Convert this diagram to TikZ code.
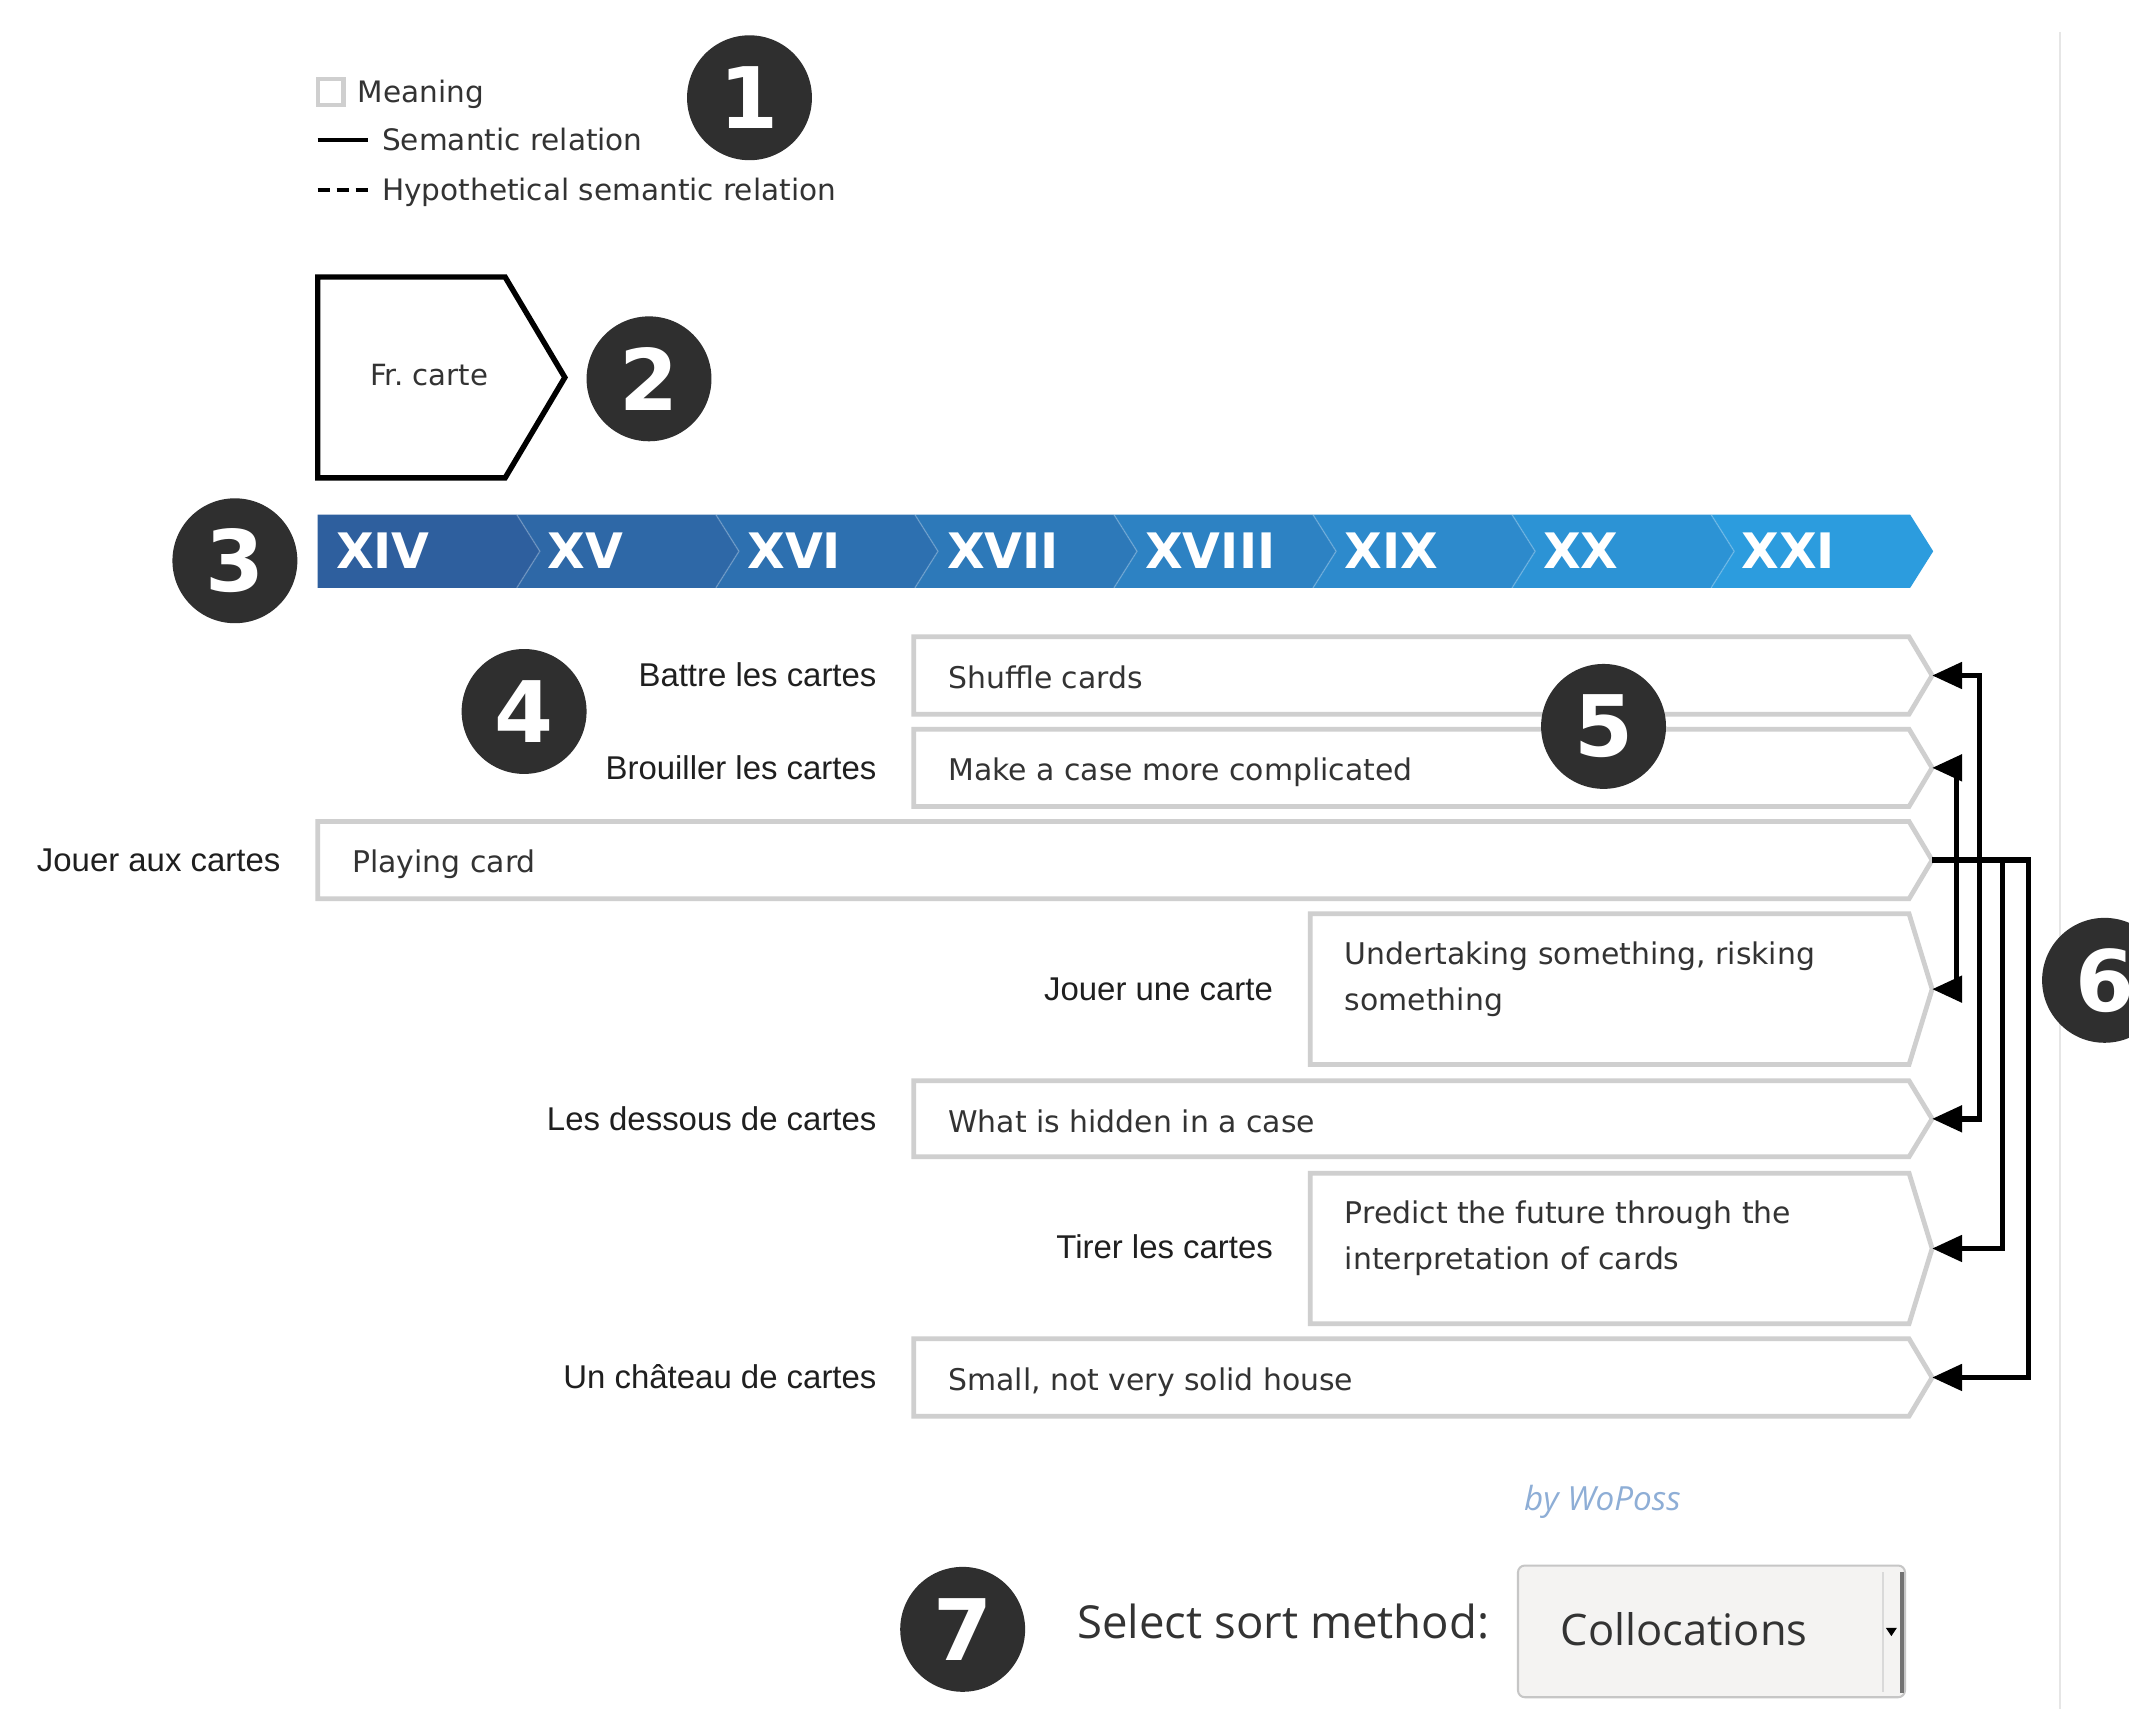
\documentclass[tikz,border=0pt]{standalone}
\usepackage{fontspec}
\setmainfont{DejaVu Sans}
\newfontfamily\labfont{Liberation Sans}
\newfontfamily\osfont{Open Sans}
\usetikzlibrary{arrows.meta}
\definecolor{numbg}{HTML}{2F2F2F}
\definecolor{boxgray}{HTML}{CFCFCF}
\definecolor{txt}{HTML}{333333}
\definecolor{tlL}{HTML}{2E5F9E}
\definecolor{tlR}{HTML}{2C9CDE}
\definecolor{woposs}{HTML}{8EAED6}
\definecolor{ddfill}{HTML}{F4F3F2}
\definecolor{ddborder}{HTML}{C6C6C6}
\definecolor{pageline}{HTML}{E6E6E6}
\newcommand\meaningpath[4]{%
  \draw[meaningbox] (#2,#3) -- (1406,#3) -- (1423,{(#3+#4)/2}) -- (1406,#4) -- (#2,#4) -- cycle;
  \coordinate (#1) at (1423,{(#3+#4)/2});
}
\begin{document}
\begin{tikzpicture}[x=0.4pt,y=-0.4pt,
 numc/.style={circle,fill=numbg,text=white,minimum size=36.8pt,inner sep=0pt,font=\fontsize{25}{25}\selectfont\bfseries},
 meaningbox/.style={draw=boxgray,line width=1.4pt,fill=white,line join=miter},
 mtext/.style={anchor=mid west,inner sep=0pt,text=txt,font=\fontsize{8.8}{13.6}\selectfont},
 mlab/.style={anchor=mid east,inner sep=0pt,text=black!88,font=\labfont\fontsize{9.7}{11}\selectfont},
 legt/.style={anchor=mid west,inner sep=0pt,text=txt,font=\fontsize{8.7}{10}\selectfont},
 cent/.style={anchor=mid west,inner sep=0pt,text=white,font=\fontsize{14.4}{15}\selectfont\bfseries},
 rel/.style={line width=1.6pt,draw=black,line join=miter},
 >={Triangle[length=8.8pt,width=7.6pt]},
]
\useasboundingbox (0,0) rectangle (1568,1258.7);
\clip (0,0) rectangle (1568,1258.7);
\fill[white] (0,0) rectangle (1568,1258.7);

% page edge line
\draw[pageline,line width=0.5pt] (1517,23.5) -- (1517,1259);

% legend
\draw[boxgray,line width=1.2pt] (234,58) rectangle (253,77);
\node[legt] (lg1) at (263,69) {Meaning};
\draw[line width=1.2pt] (234,103) -- (271,103);
\node[legt] (lg2) at (281,104) {Semantic relation};
\draw[line width=1.2pt,dash pattern=on 3.6pt off 2pt] (234,140) -- (271,140);
\node[legt] (lg3) at (281,141) {Hypothetical semantic relation};

% Fr. carte
\draw[line width=1.6pt,line join=miter] (234,204) -- (372,204) -- (416,278) -- (372,352) -- (234,352) -- cycle;
\node[inner sep=0pt,text=txt,font=\fontsize{8.6}{10}\selectfont] (fr) at (316,276) {Fr.\ carte};

% timeline
\foreach \k/\cname/\tx in {0/XIV/247,1/XV/403,2/XVI/550,3/XVII/697,4/XVIII/843,5/XIX/990,6/XX/1136,7/XXI/1282}{
  \pgfmathsetmacro\xl{234+146.6*\k}
  \pgfmathsetmacro\xr{234+146.6*(\k+1)}
  \pgfmathsetmacro\xlt{\k==0 ? \xl : \xl+17}
  \pgfmathsetmacro\pc{100*\k/7}
  \colorlet{segc}{tlR!\pc!tlL}
  \fill[segc] (\xl,379) -- (\xr,379) -- ({\xr+17},406) -- (\xr,433) -- (\xl,433) -- (\xlt,406) -- cycle;
  \ifnum\k>0
    \draw[white,opacity=0.22,line width=0.4pt] (\xl,379) -- ({\xl+17},406) -- (\xl,433);
  \fi
  \node[cent] (tl\k) at (\tx,412) {\cname};
}

% meaning boxes
\meaningpath{t1}{673}{469}{526}
\meaningpath{t2}{673}{537}{594}
\meaningpath{t3}{234}{605}{662}
\meaningpath{t4}{965}{673}{784}
\meaningpath{t5}{673}{796}{852}
\meaningpath{t6}{965}{864}{975}
\meaningpath{t7}{673}{986}{1043}

\node[mtext] (m1) at (698,500) {Shuffle cards};
\node[mtext] (m2) at (698,568) {Make a case more complicated};
\node[mtext] (m3) at (259,636) {Playing card};
\node[mtext,anchor=north west,align=left] (m4) at (990,693) {Undertaking something, risking\\something};
\node[mtext] (m5) at (698,827) {What is hidden in a case};
\node[mtext,anchor=north west,align=left] (m6) at (990,884) {Predict the future through the\\interpretation of cards};
\node[mtext] (m7) at (698,1017) {Small, not very solid house};

\node[mlab] (l1) at (646,499) {Battre les cartes};
\node[mlab] (l2) at (646,567) {Brouiller les cartes};
\node[mlab] (l3) at (207,635) {Jouer aux cartes};
\node[mlab] (l4) at (938,730) {Jouer une carte};
\node[mlab] (l5) at (646,826) {Les dessous de cartes};
\node[mlab] (l6) at (938,920) {Tirer les cartes};
\node[mlab] (l7) at (646,1016) {Un château de cartes};

% relations
\coordinate (xa) at (1458,0);
\coordinate (xb) at (1441,0);
\coordinate (xc) at (1475,0);
\coordinate (xd) at (1494,0);
\draw[rel,<->] (t1) -- (t1 -| xa) -- (t5 -| xa) -- (t5);
\draw[rel,<->] (t2) -- (t2 -| xb) -- (t4 -| xb) -- (t4);
\draw[rel,->] (t3) -- (t3 -| xd) -- (t7 -| xd) -- (t7);
\draw[rel,->] (t3 -| xc) -- (t6 -| xc) -- (t6);

% footer
\node[anchor=mid west,inner sep=0pt,text=woposs,font=\osfont\itshape\fontsize{9.8}{10}\selectfont] (by) at (1122,1106) {by WoPoss};
\node[anchor=mid west,inner sep=0pt,text=black!80,font=\osfont\fontsize{13.4}{14}\selectfont] (sel) at (793,1200) {Select sort method:};
\draw[ddborder,fill=ddfill,rounded corners=2pt,line width=0.6pt] (1118,1153) rectangle (1403,1250);
\draw[black!15,line width=0.6pt] (1387,1158) -- (1387,1246);
\draw[black!55,line width=1.2pt] (1401,1158) -- (1401,1247);
\fill[black] (1389,1199) -- (1397,1199) -- (1393,1205) -- cycle;
\node[anchor=mid west,inner sep=0pt,text=black!80,font=\osfont\fontsize{12.8}{14}\selectfont] (coll) at (1149,1205) {Collocations};

% number circles
\node[numc] (c1) at (552,72) {1};
\node[numc] (c2) at (478,279) {2};
\node[numc] (c3) at (173,413) {3};
\node[numc] (c4) at (386,524) {4};
\node[numc] (c5) at (1181,535) {5};
\node[numc] (c6) at (1550,722) {6};
\node[numc] (c7) at (709,1200) {7};
\end{tikzpicture}
\end{document}
